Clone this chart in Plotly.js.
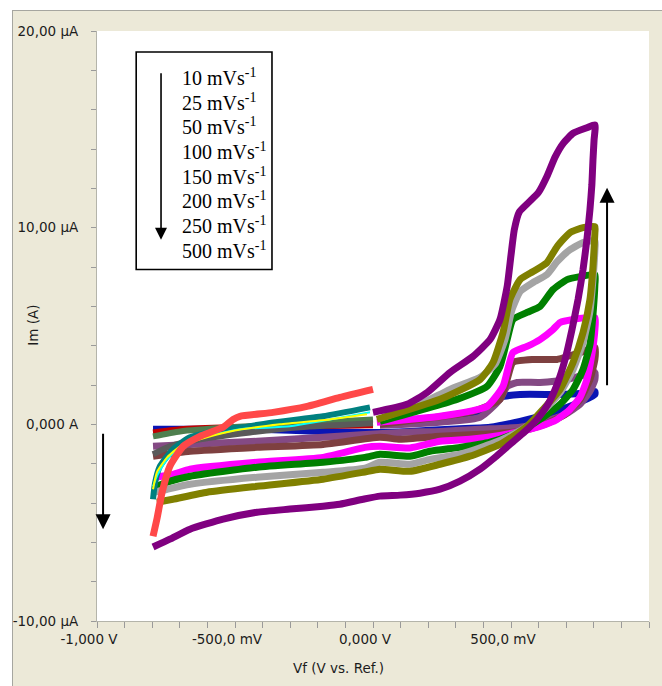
<!DOCTYPE html>
<html>
<head>
<meta charset="utf-8">
<script src="https://cdn.plot.ly/plotly-3.0.1.min.js"></script>
<style>
  html, body { margin: 0; padding: 0; background: #ffffff; width: 662px; height: 686px; overflow: hidden; }
  #frame { position: absolute; left: 12px; top: 10px; width: 650px; height: 676px; border-left: 1px solid #a6a6a0; border-top: 1px solid #a6a6a0; box-sizing: border-box; background: #ECE9D8; }
  #chart { position: absolute; left: 13px; top: 11px; width: 649px; height: 675px; }
</style>
</head>
<body>
<div id="frame"></div>
<div id="chart"></div>
<script>
// ---- tick labels ----
const xTickVals = [-1000, -500, 0, 500, 1000];
const xTickText = ['-1,000 V', '-500,0 mV', '0,000 V', '500,0 mV', '1,000 V'];
const yTickVals = [-10, 0, 10, 20];
const yTickText = ['-10,00 µA', '0,000 A', '10,00 µA', '20,00 µA'];

// ---- legend text (scan rates) ----
const legendLabels = ['10 mVs<sup>-1</sup>', '25 mVs<sup>-1</sup>', '50 mVs<sup>-1</sup>', '100 mVs<sup>-1</sup>',
                      '150 mVs<sup>-1</sup>', '200 mVs<sup>-1</sup>', '250 mVs<sup>-1</sup>', '500 mVs<sup>-1</sup>'];

// ---- data: potential (mV) / current (µA) ----
// 10 mV/s
const v10 = [25,170,315,406,460,533,678,750,804, 804,732,641,533,424,279,134,0,-181,-420,-663,-797];
const i10 = [0.15,0.25,0.36,0.76,1.37,1.52,1.52,1.57,1.68, 1.52,1.02,0.56,0.15,-0.15,-0.25,-0.36,-0.41,-0.36,-0.25,-0.25,-0.25];
// 25 mV/s
const v25 = [25,388,460,486,522,605,703,775,804, 804,786,750,696,623,533,388,243,98,-181,-420,-663,-797];
const i25 = [-0.05,0.36,1.27,1.93,2.13,2.13,2.28,2.54,2.64, 2.28,1.68,1.02,0.51,0.15,-0.15,-0.25,-0.36,-0.41,-0.66,-0.86,-1.02,-1.12];
// 50 mV/s
const v50 = [25,362,460,486,507,580,667,750,804, 804,786,750,696,623,533,388,243,98,25,-181,-420,-663,-797];
const i50 = [0,0.66,1.27,2.28,3.15,3.30,3.30,3.65,3.91, 3.30,2.28,1.27,0.51,0,-0.36,-0.51,-0.61,-0.76,-0.66,-1.02,-1.17,-1.37,-1.62];
// 100 mV/s
const v100 = [14,243,413,471,507,558,605,652,678,725,804, 804,793,775,750,714,667,605,533,460,351,243,134,25,-29,-181,-420,-663,-725,-790];
const i100 = [0.10,0.41,0.91,1.93,3.65,3.96,4.31,4.82,5.18,5.33,5.43, 4.82,3.55,2.28,1.37,0.76,0.25,-0.10,-0.36,-0.56,-0.76,-0.86,-1.20,-1.12,-1.17,-1.68,-1.93,-2.28,-2.54,-2.69];
// 150 mV/s
const v150 = [25,304,413,460,486,507,558,605,652,703,750,804, 804,797,786,761,725,678,616,558,507,424,315,206,134,25,-29,-181,-420,-663,-746,-790];
const i150 = [0.15,1.27,1.93,2.94,4.31,5.33,5.69,5.99,6.85,7.36,7.51,7.61, 7.11,5.58,4.06,2.79,1.78,1.02,0.36,-0.15,-0.51,-0.91,-1.17,-1.37,-1.62,-1.52,-1.68,-1.93,-2.18,-2.64,-2.94,-3.20];
// 200 mV/s
const v200 = [36,170,279,388,442,478,504,533,580,630,667,714,761,804, 804,797,786,761,725,678,616,558,507,424,315,206,134,25,-29,-181,-420,-663,-746,-790];
const i200 = [0.36,1.02,1.78,2.39,3.05,4.31,5.84,6.75,7.21,7.61,8.27,8.88,9.24,9.34, 8.88,7.36,5.74,4.16,2.79,1.62,0.66,-0.10,-0.51,-1.02,-1.52,-1.78,-2.03,-1.93,-2.23,-2.44,-2.69,-3.05,-3.30,-3.45];
// 250 mV/s
const v250 = [14,243,388,435,471,496,533,580,630,667,714,761,804, 804,797,786,761,725,678,616,558,507,460,351,243,134,25,-36,-181,-420,-601,-725,-783];
const i250 = [0.25,1.27,2.28,3.15,4.67,6.35,7.36,7.77,8.22,9.04,9.75,10.0,10.05, 9.75,8.02,6.35,4.67,3.15,1.78,0.76,-0.10,-0.61,-1.02,-1.62,-2.03,-2.39,-2.28,-2.44,-2.79,-3.15,-3.45,-3.81,-3.96];
// 500 mV/s
const v500 = [0,123,196,279,362,424,460,486,500,512,530,565,600,630,660,690,725,775,804, 801,797,793,786,775,761,743,721,696,667,634,594,551,496,442,388,315,243,170,98,25,-36,-120,-181,-301,-420,-543,-663,-736,-797];
const i500 = [0.61,1.02,1.62,2.64,3.45,4.31,5.33,7.0,8.6,9.9,10.8,11.3,11.8,12.6,13.6,14.3,14.8,15.08,15.23, 14.47,13.45,12.18,10.91,9.39,7.87,6.35,4.82,3.30,2.03,1.02,0.25,-0.36,-1.02,-1.68,-2.28,-2.89,-3.30,-3.50,-3.60,-3.65,-3.81,-4.06,-4.16,-4.31,-4.47,-4.82,-5.33,-5.84,-6.24];

// return segments (-800 mV -> 0 V)
const vDarkRed = [-797,-699,-518,-264,0];
const iDarkRed = [-0.41,-0.25,-0.15,-0.10,-0.05];
const vDarkGreen = [-797,-699,-518,-264,0];
const iDarkGreen = [-0.61,-0.36,-0.15,0.05,0.25];
const vDarkGrey = [-797,-736,-627,-446,-264,0];
const iDarkGrey = [-1.52,-1.12,-0.76,-0.41,-0.15,0.05];
const vTeal = [-797,-790,-772,-725,-663,-543,-471,-362,-181,-11];
const iTeal = [-3.81,-3.0,-2.13,-1.27,-0.66,-0.25,-0.15,0.10,0.41,0.86];
const vCyan = [-797,-783,-746,-663,-482,-301,-11];
const iCyan = [-3.15,-2.64,-1.78,-0.86,-0.25,-0.10,0.61];
const vYellow = [-797,-783,-746,-699,-627,-518,-337,-156,-22];
const iYellow = [-3.30,-2.44,-1.68,-1.12,-0.76,-0.36,0,0.25,0.51];
const vRed = [-797,-783,-764,-736,-688,-627,-543,-507,-482,-362,-239,-120,0];
const iRed = [-5.69,-4.82,-3.45,-2.13,-1.12,-0.61,-0.15,0.25,0.41,0.61,0.91,1.37,1.78];

function tr(x, y, color, width) {
  return { x: x, y: y, type: 'scatter', mode: 'lines', line: { color: color, width: width, shape: 'spline', smoothing: 0.5 }, hoverinfo: 'skip', showlegend: false };
}

const data = [
  tr(v10, i10, '#0a14b4', 7),
  tr(v25, i25, '#844a84', 7),
  tr(v50, i50, '#7e4040', 7),
  tr(vDarkRed, iDarkRed, '#c00000', 6),
  tr(vDarkGreen, iDarkGreen, '#4f7f4f', 6),
  tr(vDarkGrey, iDarkGrey, '#5a5a5a', 6),
  tr(v100, i100, '#ff00ff', 7),
  tr(v150, i150, '#008000', 7),
  tr(v200, i200, '#a4a4a4', 7),
  tr(v250, i250, '#808000', 7),
  tr(vTeal, iTeal, '#008080', 6),
  tr(vCyan, iCyan, '#00ffff', 2),
  tr(vYellow, iYellow, '#ffff00', 2),
  tr(v500, i500, '#800080', 7),
  tr(vRed, iRed, '#ff4848', 7)
];

const tickFont = { family: 'DejaVu Sans', size: 13.5, color: '#1c1c1c' };

const annotations = [];
// legend text
const legTop = 17.66, legStep = 1.254;
legendLabels.forEach((t, k) => {
  annotations.push({ x: -699, y: legTop - k * legStep, xref: 'x', yref: 'y', text: t, showarrow: false,
    xanchor: 'left', yanchor: 'middle', font: { family: 'Liberation Serif', size: 20, color: '#000' } });
});
// arrows
annotations.push({ x: -768, y: 9.39, xref: 'x', yref: 'y', ax: 0, ay: -168, text: '', showarrow: true,
  arrowhead: 2, arrowsize: 1.5, arrowwidth: 1.6, arrowcolor: '#000' });
annotations.push({ x: -978, y: -5.33, xref: 'x', yref: 'y', ax: 0, ay: -97, text: '', showarrow: true,
  arrowhead: 2, arrowsize: 1.5, arrowwidth: 2, arrowcolor: '#000' });
annotations.push({ x: 848, y: 12.03, xref: 'x', yref: 'y', ax: 0, ay: 199, text: '', showarrow: true,
  arrowhead: 2, arrowsize: 1.5, arrowwidth: 2, arrowcolor: '#000' });
// axis titles
annotations.push({ x: 0.437, y: -0.08, xref: 'paper', yref: 'paper', text: 'Vf (V vs. Ref.)', showarrow: false,
  xanchor: 'center', yanchor: 'middle', font: tickFont });
annotations.push({ x: -0.116, y: 0.502, xref: 'paper', yref: 'paper', text: 'Im (A)', showarrow: false, textangle: -90,
  xanchor: 'center', yanchor: 'middle', font: tickFont });

const layout = {
  width: 649, height: 675,
  margin: { l: 84, r: 13, t: 20, b: 65 },
  paper_bgcolor: 'rgba(0,0,0,0)',
  plot_bgcolor: '#ffffff',
  showlegend: false,
  xaxis: {
    range: [-1000, 1000], tickvals: xTickVals, ticktext: xTickText,
    ticks: 'outside', ticklen: 6, tickcolor: '#9a9a9a', tickwidth: 1,
    minor: { dtick: 100, tick0: 0, ticks: 'outside', ticklen: 6, tickcolor: '#9a9a9a', showgrid: false },
    showgrid: false, zeroline: false, showline: true, linecolor: '#b4b4aa', linewidth: 1,
    tickfont: tickFont, ticklabelshift: -8, fixedrange: true
  },
  yaxis: {
    range: [-10, 20], tickvals: yTickVals, ticktext: yTickText,
    ticks: 'outside', ticklen: 5, tickcolor: '#9a9a9a', tickwidth: 1,
    minor: { dtick: 2, tick0: 0, ticks: 'outside', ticklen: 5, tickcolor: '#9a9a9a', showgrid: false },
    showgrid: false, zeroline: false, showline: true, linecolor: '#b4b4aa', linewidth: 1,
    tickfont: tickFont, ticklabelstandoff: 10, fixedrange: true
  },
  shapes: [
    { type: 'rect', xref: 'x', yref: 'y', x0: -858, x1: -366, y0: 7.87, y1: 18.93, line: { color: '#000', width: 1.6 }, fillcolor: 'rgba(0,0,0,0)' }
  ],
  annotations: annotations
};

Plotly.newPlot('chart', data, layout, { displayModeBar: false, staticPlot: true });
</script>
</body>
</html>
